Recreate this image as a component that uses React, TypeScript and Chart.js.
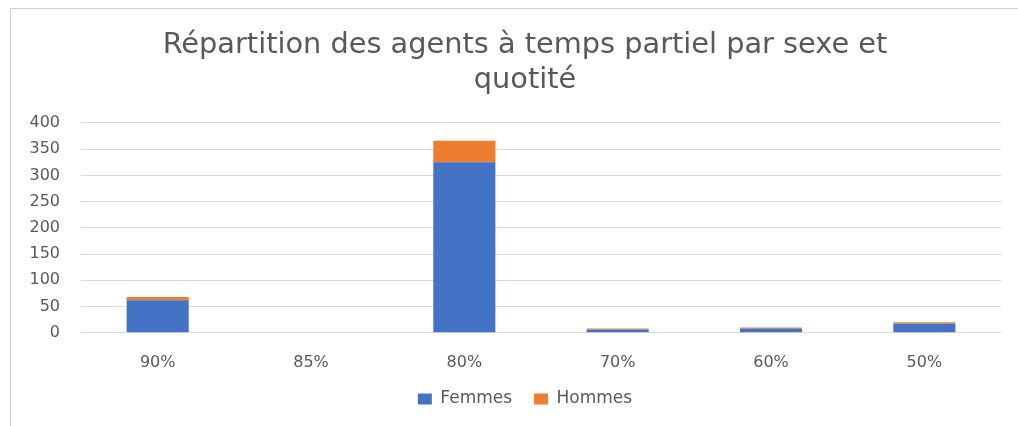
import React, { useEffect, useRef } from "react";
import { Chart, registerables } from "chart.js";

Chart.register(...registerables);

const categories = ["90%", "85%", "80%", "70%", "60%", "50%"];
const femmes = [62, 0, 325, 6, 8, 17];
const hommes = [6, 0, 41, 2, 2, 3];
const yMin = 0;
const yMax = 400;
const yStep = 50;

const TEXT = "#595959";
const GRID = "#d9d9d9";
const FONT = "'DejaVu Sans', 'Open Sans', sans-serif";

export default function App() {
  const ref = useRef<HTMLCanvasElement | null>(null);

  useEffect(() => {
    if (!ref.current) return;
    const chart = new Chart(ref.current, {
      type: "bar",
      data: {
        labels: categories,
        datasets: [
          {
            label: "Femmes",
            data: femmes,
            backgroundColor: "#4472C4",
            categoryPercentage: 0.45,
            barPercentage: 0.9,
            yAxisID: "y",
          },
          {
            label: "Hommes",
            data: hommes,
            backgroundColor: "#ED7D31",
            categoryPercentage: 0.45,
            barPercentage: 0.9,
            yAxisID: "y",
          },
        ],
      },
      options: {
        animation: false,
        responsive: false,
        maintainAspectRatio: false,
        layout: { padding: { left: 20, right: -12, top: 8, bottom: 8.5 } },
        plugins: {
          title: {
            display: true,
            text: ["Répartition des agents à temps partiel par sexe et", "quotité"],
            color: TEXT,
            font: { family: FONT, size: 28.8, weight: "normal", lineHeight: 1.22 },
            padding: { top: 19.5, bottom: 25.2 },
          },
          legend: {
            display: true,
            position: "bottom",
            labels: {
              color: TEXT,
              font: { family: FONT, size: 17 },
              boxWidth: 14,
              boxHeight: 11,
              padding: 22,
            },
          },
          tooltip: { enabled: false },
        },
        scales: {
          x: {
            stacked: true,
            grid: { display: false },
            border: { display: false },
            ticks: {
              color: TEXT,
              font: { family: FONT, size: 16 },
              padding: 13,
            },
            afterFit: (axis: any) => {
              axis.height = 35.8;
            },
          },
          y: {
            stacked: true,
            position: "left",
            min: yMin,
            max: yMax,
            grid: { color: GRID, drawTicks: false, lineWidth: 1 },
            border: { display: false },
            ticks: {
              stepSize: yStep,
              color: TEXT,
              font: { family: FONT, size: 16 },
              padding: 21,
            },
            afterFit: (axis: any) => {
              axis.width = 61;
            },
          },
          yRight: {
            position: "right",
            min: yMin,
            max: yMax,
            grid: { display: false, drawTicks: false },
            border: { display: false },
            ticks: { display: false },
            afterFit: (axis: any) => {
              axis.width = 29;
            },
          },
        },
      },
    });
    return () => chart.destroy();
  }, []);

  return (
    <div style={{ position: "absolute", left: 0, top: 0, width: 1018, height: 426, background: "#fff", overflow: "hidden" }}>
      <div style={{ position: "absolute", left: 10, top: 8, width: 1020, height: 430, borderLeft: "1px solid #d0d0d0", borderTop: "1px solid #d0d0d0" }} />
      <canvas ref={ref} width={1018} height={426} style={{ position: "absolute", left: 0, top: 0 }} />
    </div>
  );
}
